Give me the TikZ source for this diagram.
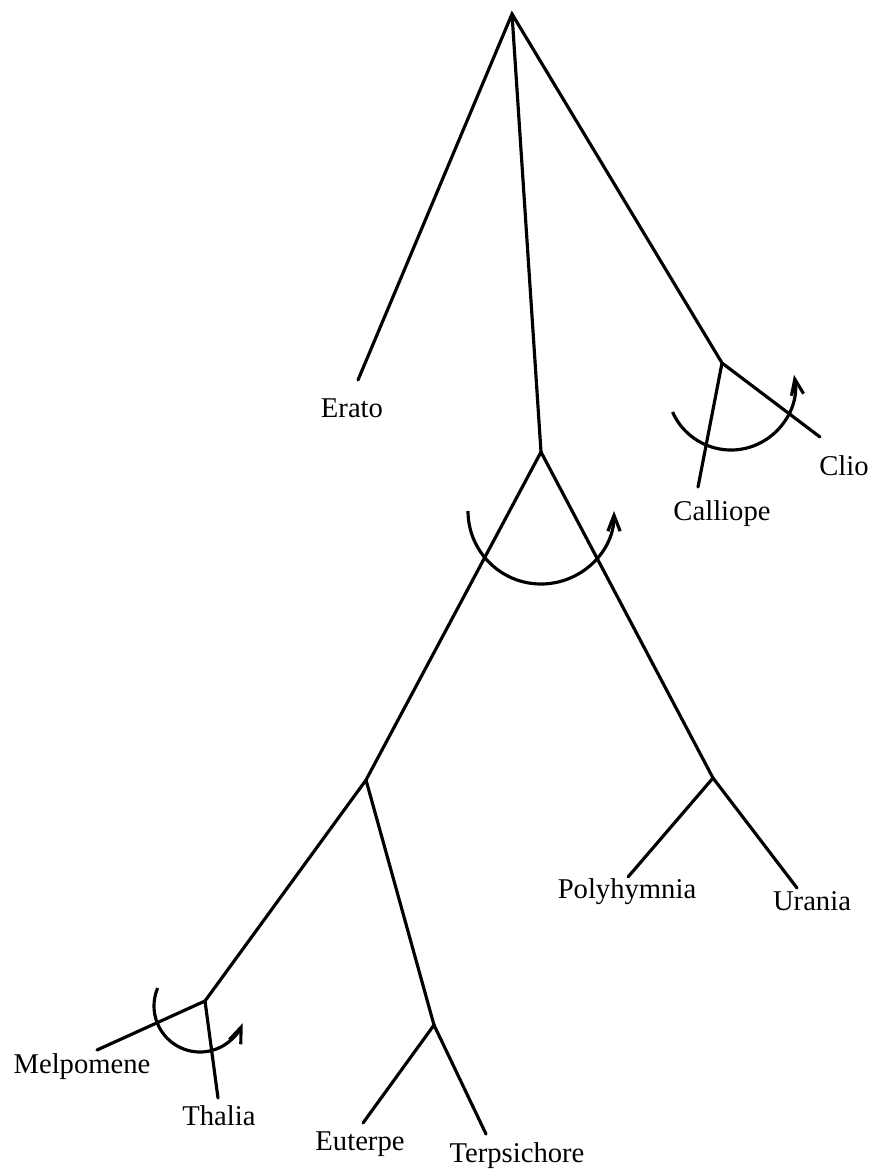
\documentclass[tikz,border=0pt]{standalone}
\usepackage{fontspec}
\setmainfont{Liberation Serif}
\usetikzlibrary{arrows.meta}
\tikzset{
  branch/.style = {line width=1.8pt, line cap=round},
  twist/.style  = {line width=1.8pt, -{Straight Barb[length=9pt,width=7pt]}},
  muse/.style   = {font=\fontsize{16.3}{19}\selectfont, anchor=base, inner sep=0pt},
}
\begin{document}
\begin{tikzpicture}[x=0.2mm, y=0.2mm]
  % Cadre
  \useasboundingbox (0,0) rectangle (870,-1171);
  % Noeuds
  \coordinate (apex)   at (512,-14);
  \coordinate (nMid)   at (541,-452);
  \coordinate (nClio)  at (722,-363);
  \coordinate (nLeft)  at (366,-780);
  \coordinate (nRight) at (713,-778);
  \coordinate (nMel)   at (205,-1001);
  \coordinate (nEut)   at (434,-1025);
  % Feuilles
  \coordinate (eErato)       at (358,-380);
  \coordinate (eCalliope)    at (698,-487);
  \coordinate (eClio)        at (820,-437);
  \coordinate (ePolyhymnia)  at (628,-877);
  \coordinate (eUrania)      at (797,-888);
  \coordinate (eMelpomene)   at (97,-1050);
  \coordinate (eThalia)      at (218,-1098);
  \coordinate (eEuterpe)     at (363,-1123);
  \coordinate (eTerpsichore) at (486,-1134);
  % Branches
  \draw [branch] (eErato) -- (apex) -- (nClio);
  \draw [branch] (apex) -- (nMid);
  \draw [branch] (eCalliope) -- (nClio) -- (eClio);
  \draw [branch] (nLeft) -- (nMid) -- (nRight);
  \draw [branch] (ePolyhymnia) -- (nRight) -- (eUrania);
  \draw [branch] (nMel) -- (nLeft) -- (nEut);
  \draw [branch] (eMelpomene) -- (nMel) -- (eThalia);
  \draw [branch] (eEuterpe) -- (nEut) -- (eTerpsichore);
  % Rotations
  \draw [twist] (731,-386) ++(204:64) arc [start angle=204, end angle=370, radius=12.8mm];
  \draw [twist] (541,-511) ++(180:73) arc [start angle=180, end angle=360, radius=14.6mm];
  \draw [twist] (200,-1006) ++(157:46) arc [start angle=157, end angle=338, radius=9.2mm];
  % Noms
  \node [muse] (Erato)       at (352,-417)  {Erato};
  \node [muse] (Calliope)    at (722,-520)  {Calliope};
  \node [muse] (Clio)        at (844,-475)  {Clio};
  \node [muse] (Polyhymnia)  at (627,-898)  {Polyhymnia};
  \node [muse] (Urania)      at (812,-910)  {Urania};
  \node [muse] (Melpomene)   at (82,-1073)  {Melpomene};
  \node [muse] (Thalia)      at (219,-1125) {Thalia};
  \node [muse] (Euterpe)     at (360,-1150) {Euterpe};
  \node [muse] (Terpsichore) at (517,-1162) {Terpsichore};
\end{tikzpicture}
\end{document}
